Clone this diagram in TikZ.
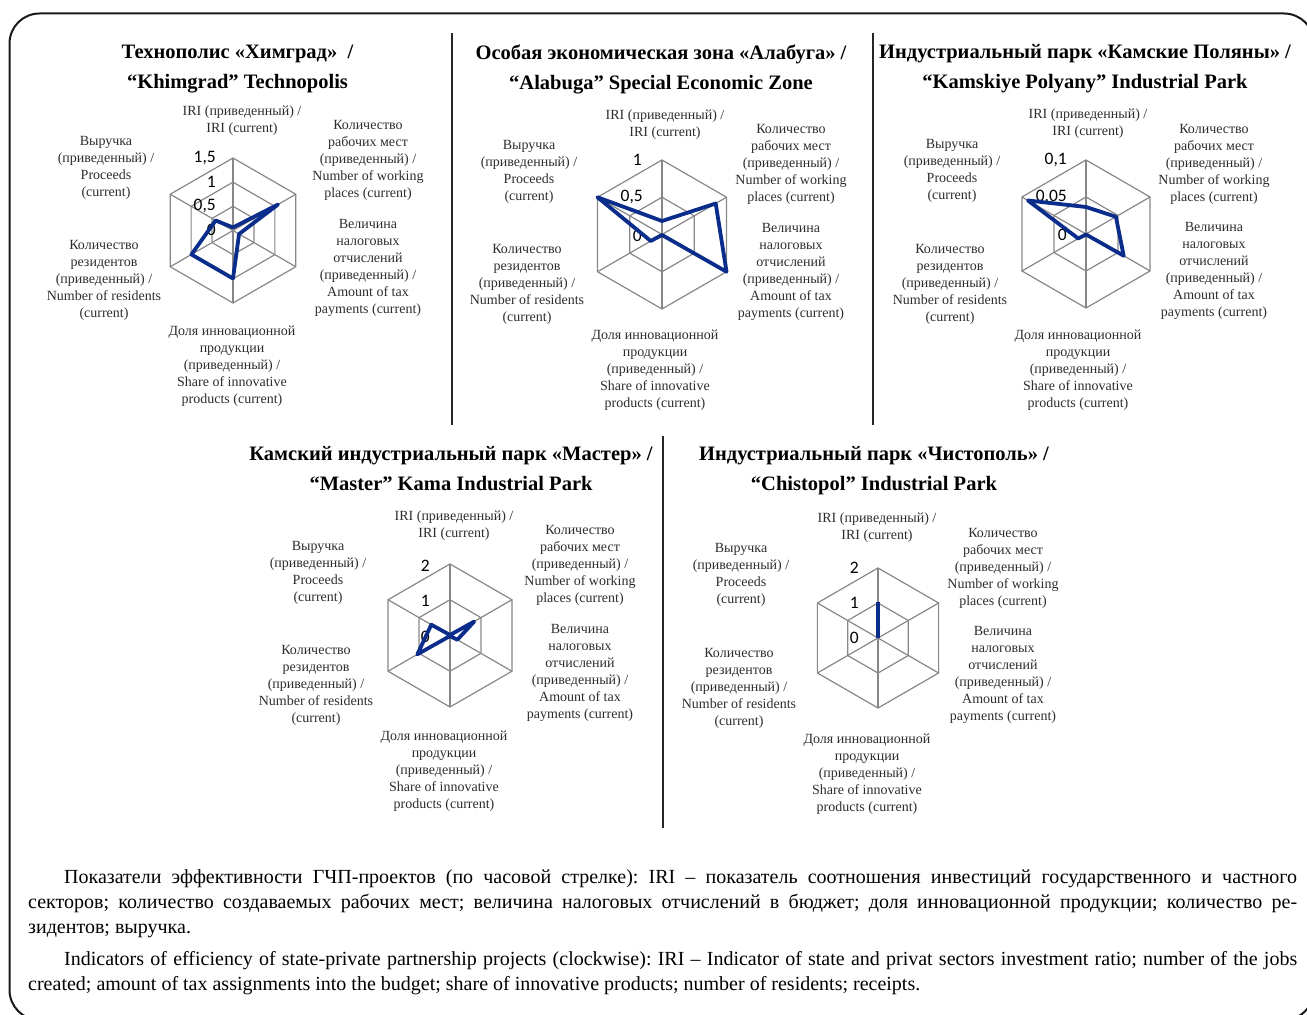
\documentclass[tikz,border=0pt]{standalone}
\usepackage{fontspec}
\setmainfont{Liberation Serif}
\newfontfamily\calibri{Carlito}
\definecolor{radarblue}{RGB}{10,45,140}
\definecolor{gridgray}{RGB}{135,135,135}
\definecolor{labgray}{RGB}{45,45,45}
\frenchspacing

\begin{document}
\begin{tikzpicture}[x=1pt,y=1pt,
  gridline/.style={draw=gridgray, line width=1.2pt},
  dataline/.style={draw=radarblue, line width=3.8pt, line join=round},
  axislab/.style={align=center, text=labgray, inner sep=0pt, font=\fontsize{14}{17}\selectfont},
  ticklab/.style={anchor=east, inner sep=0pt, font=\calibri\fontsize{17.5}{18}\selectfont},
  charttitle/.style={align=center, inner sep=0pt, font=\bfseries\fontsize{20.5}{30}\selectfont},
  divider/.style={draw=black!85, line width=2.6pt}]
\useasboundingbox (0,0) rectangle (1307,1015);

% Frame
\draw[line width=2pt, rounded corners=30pt, black!90] (9.5,-5) rectangle (1314,1001.5);

% Dividers
\draw[divider] (452,982) -- (452,590);
\draw[divider] (873,982) -- (873,590);
\draw[divider] (663,579) -- (663,187);

% Titles
\node[charttitle] (title1) at (237.5,946) {Технополис «Химград»~~/\\“Khimgrad” Technopolis};
\node[charttitle] (title2) at (661,946) {Особая экономическая зона «Алабуга» /\\“Alabuga” Special Economic Zone};
\node[charttitle] (title3) at (1085,946) {Индустриальный парк «Камские Поляны» /\\“Kamskiye Polyany” Industrial Park};
\node[charttitle] (title4) at (451,546) {Камский индустриальный парк «Мастер» /\\“Master” Kama Industrial Park};
\node[charttitle] (title5) at (874,544.5) {Индустриальный парк «Чистополь» /\\“Chistopol” Industrial Park};

% Grids and axis labels (centre x / centre y / radius / chart / rings / label shift)
\foreach \cx/\cy/\R/\n/\k/\s in {233/784.5/72.5/1/3/3, 662/780.5/74.5/2/2/-3, 1086/781/74/3/2/-4, 450/379.5/71.5/4/2/-2, 878/377/70/5/2/-7} {
  \begin{scope}[shift={(\cx,\cy)}]
    \foreach \a in {90,30,-30,-90,-150,150}
      \draw[gridline] (0,0) -- (\a:\R);
    \foreach \i in {1,...,\k}
      \draw[gridline] (90:{\R*\i/\k}) -- (30:{\R*\i/\k}) -- (-30:{\R*\i/\k})
        -- (-90:{\R*\i/\k}) -- (-150:{\R*\i/\k}) -- (150:{\R*\i/\k}) -- cycle;
    \node[axislab] (iri\n) at ({\s+6},110) {IRI (приведенный) /\\IRI (current)};
    \node[axislab] (jobs\n) at ({132+\s},70) {Количество\\рабочих мест\\(приведенный) /\\Number of working\\places (current)};
    \node[axislab] (tax\n) at ({132+\s},-37) {Величина\\налоговых\\отчислений\\(приведенный) /\\Amount of tax\\payments (current)};
    \node[axislab] (innov\n) at ({\s-4},-136) {Доля инновационной\\продукции\\(приведенный) /\\Share of innovative\\products (current)};
    \node[axislab] (resid\n) at ({\s-132},-50) {Количество\\резидентов\\(приведенный) /\\Number of residents\\(current)};
    \node[axislab] (proc\n) at ({\s-130},63) {Выручка\\(приведенный) /\\Proceeds\\(current)};
  \end{scope}
}

% Scale values
\node[ticklab] (t1a) at (216,857) {1,5};
\node[ticklab] (t1b) at (216,833) {1};
\node[ticklab] (t1c) at (216,809) {0,5};
\node[ticklab] (t1d) at (216,785) {0};
\node[ticklab] (t2a) at (642,855) {1};
\node[ticklab] (t2b) at (643,818) {0,5};
\node[ticklab] (t2c) at (642,779) {0};
\node[ticklab] (t3a) at (1067,855) {0,1};
\node[ticklab] (t3b) at (1067,818) {0,05};
\node[ticklab] (t3c) at (1067,780) {0};
\node[ticklab] (t4a) at (430,449) {2};
\node[ticklab] (t4b) at (430,414) {1};
\node[ticklab] (t4c) at (430,378) {0};
\node[ticklab] (t5a) at (859,447) {2};
\node[ticklab] (t5b) at (859,412) {1};
\node[ticklab] (t5c) at (859,377) {0};

% Data
\draw[dataline, shift={(233,784.5)}] (90:3) -- (30:52) -- (-30:7) -- (-90:48) -- (210:48) -- (150:20) -- cycle;
\draw[dataline, shift={(662,780.5)}] (90:13.5) -- (30:62) -- (-30:74.5) -- (-90:0.5) -- (210:13) -- (150:74.5) -- cycle;
\draw[dataline, shift={(1086,781)}] (90:27) -- (30:34.5) -- (-30:43.5) -- (-90:0.5) -- (210:9) -- (150:67) -- cycle;
\draw[dataline, shift={(450,379.5)}] (90:0.5) -- (30:28) -- (-30:8.5) -- (-90:0.5) -- (210:37.7) -- (150:21.6) -- cycle;
\draw[dataline, shift={(878,377)}] (0,0) -- (90:36);

% Caption
\node[anchor=north west, inner sep=0pt, text width=1269pt, align=justify, font=\fontsize{20}{25}\selectfont] (caption) at (28,145.5) {%
\hspace*{36pt}Показатели эффективности ГЧП-проектов (по часовой стрелке): IRI – показатель соотношения инвестиций государственного и частного\linebreak
секторов; количество создаваемых рабочих мест; величина налоговых отчислений в бюджет; доля инновационной продукции; количество ре-\linebreak
зидентов; выручка.\par\vspace{7pt}
\hspace*{36pt}Indicators of efficiency of state-private partnership projects (clockwise): IRI – Indicator of state and privat sectors investment ratio; number of the jobs\linebreak
created; amount of tax assignments into the budget; share of innovative products; number of residents; receipts.};

\end{tikzpicture}
\end{document}
